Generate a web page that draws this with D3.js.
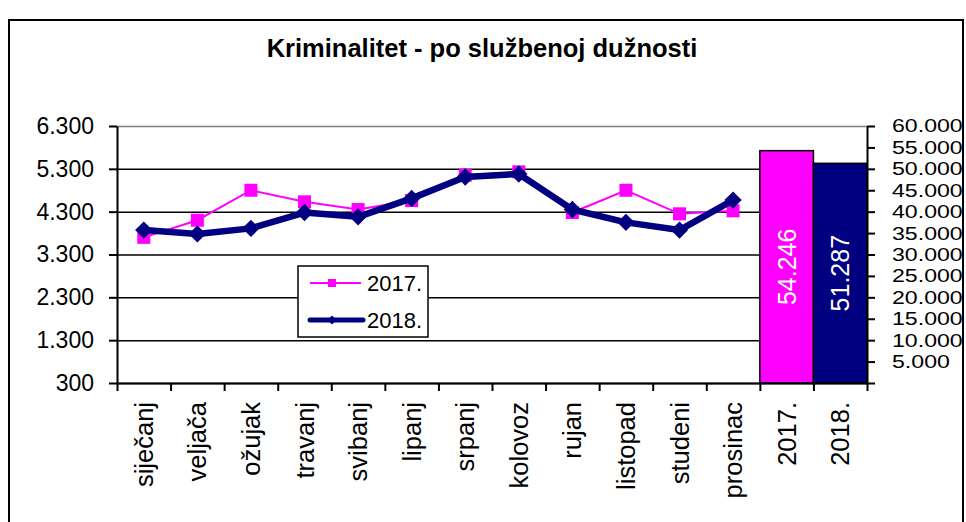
<!DOCTYPE html>
<html>
<head>
<meta charset="utf-8">
<script src="https://cdn.jsdelivr.net/npm/d3@7"></script>
<style>
  html, body { margin: 0; padding: 0; background: #fff; }
  svg { display: block; }
  text { font-family: Arial, "Liberation Sans", sans-serif; fill: #000; }
</style>
</head>
<body>
<svg id="chart" width="966" height="522"></svg>
<script>
const months = ["siječanj","veljača","ožujak","travanj","svibanj","lipanj","srpanj","kolovoz","rujan","listopad","studeni","prosinac"];
const values2017 = [3700, 4100, 4800, 4530, 4350, 4560, 5150, 5230, 4280, 4800, 4250, 4320];
const values2018 = [3870, 3780, 3910, 4280, 4180, 4610, 5110, 5180, 4350, 4050, 3870, 4570];
const totalCategories = ["2017.", "2018."];
const totals = [54246, 51287];
const seriesNames = ["2017.", "2018."];
const leftTicks = [300, 1300, 2300, 3300, 4300, 5300, 6300];
const rightTicks = [5000, 10000, 15000, 20000, 25000, 30000, 35000, 40000, 45000, 50000, 55000, 60000];
const title = "Kriminalitet - po službenoj dužnosti";

const colors = { s2017: "#FF00FF", s2018: "#000080" };

const locale = d3.formatLocale({ decimal: ",", thousands: ".", grouping: [3], currency: ["", ""] });
const fmt = locale.format(",d");

const svg = d3.select("#chart");

// outer frame
svg.append("rect").attr("x", 9).attr("y", 20).attr("width", 954).attr("height", 520)
  .attr("fill", "#fff").attr("stroke", "#000").attr("stroke-width", 2);

svg.append("text").attr("x", 482).attr("y", 57).attr("text-anchor", "middle")
  .attr("font-weight", "bold").attr("font-size", 25.5).text(title);

const L = 117, R = 867, T = 126, B = 383;
const allCats = months.concat(totalCategories);
const x = d3.scaleBand().domain(allCats).range([L, R]).padding(0);
const xEdges = d3.scaleLinear().domain([0, allCats.length]).range([L, R]);
const yL = d3.scaleLinear().domain([300, 6300]).range([B, T]);
const yR = d3.scaleLinear().domain([0, 60000]).range([B, T]);

// gridlines
const grid = svg.append("g").attr("transform", `translate(${L},0)`)
  .call(d3.axisLeft(yL).tickValues(leftTicks).tickSize(-(R - L)).tickFormat(""));
grid.select(".domain").remove();
grid.selectAll(".tick line").attr("stroke", "#000").attr("stroke-width", 1.5)
  .filter(d => d === 6300).attr("stroke", "#808080");

// bars
const bars = svg.append("g");
bars.selectAll("rect").data(totals).join("rect")
  .attr("x", (d, i) => x(totalCategories[i]))
  .attr("width", x.bandwidth())
  .attr("y", d => yR(d))
  .attr("height", d => B - yR(d))
  .attr("fill", (d, i) => i === 0 ? colors.s2017 : colors.s2018)
  .attr("stroke", "#000").attr("stroke-width", 1.5);
bars.selectAll("text").data(totals).join("text")
  .attr("transform", (d, i) => `translate(${x(totalCategories[i]) + x.bandwidth() / 2},${(yR(d) + B) / 2}) rotate(-90)`)
  .attr("text-anchor", "middle").attr("dy", "0.36em")
  .attr("font-size", 25).style("fill", "#fff").text(d => fmt(d));

// axes
const axL = svg.append("g").attr("transform", `translate(${L},0)`)
  .call(d3.axisLeft(yL).tickValues(leftTicks).tickFormat(fmt).tickSize(8).tickPadding(15).tickSizeOuter(0));
axL.selectAll("text").attr("font-size", 23);
axL.selectAll("line, path").attr("stroke", "#000").attr("stroke-width", 2);

const axR = svg.append("g").attr("transform", `translate(${R},0)`)
  .call(d3.axisRight(yR).tickValues([0].concat(rightTicks)).tickFormat("").tickSize(8).tickSizeOuter(0));
axR.selectAll("line, path").attr("stroke", "#000").attr("stroke-width", 2);

// right-axis labels (wide digits, as in the reference)
const rStretch = 1.25;
svg.append("g").selectAll("g").data(rightTicks).join("g")
  .attr("transform", d => `translate(${R + 25},${yR(d)}) scale(${rStretch},1)`)
  .append("text").attr("x", 0).attr("dy", "0.35em").attr("font-size", 18.5)
  .text(d => fmt(d));

const axB = svg.append("g").attr("transform", `translate(0,${B})`)
  .call(d3.axisBottom(xEdges).ticks(allCats.length).tickFormat("").tickSize(8).tickSizeOuter(0));
axB.selectAll("line, path").attr("stroke", "#000").attr("stroke-width", 2);

// category labels
svg.append("g").selectAll("text").data(allCats).join("text")
  .attr("transform", d => `translate(${x(d) + x.bandwidth() / 2 + 9},402) rotate(-90)`)
  .attr("text-anchor", "end").attr("font-size", 25.5).text(d => d);

// lines
const cx = i => x(months[i]) + x.bandwidth() / 2;
const line = d3.line().x((d, i) => cx(i)).y(d => yL(d));

svg.append("path").datum(values2017).attr("d", line)
  .attr("fill", "none").attr("stroke", colors.s2017).attr("stroke-width", 2);
svg.append("g").selectAll("rect").data(values2017).join("rect")
  .attr("x", (d, i) => cx(i) - 6.5).attr("y", d => yL(d) - 6.5)
  .attr("width", 13).attr("height", 13).attr("fill", colors.s2017);

svg.append("path").datum(values2018).attr("d", line)
  .attr("fill", "none").attr("stroke", colors.s2018).attr("stroke-width", 6.5).attr("stroke-linejoin", "round");
const diamond = d3.symbol().type(d3.symbolSquare).size(150);
svg.append("g").selectAll("path").data(values2018).join("path")
  .attr("d", diamond)
  .attr("transform", (d, i) => `translate(${cx(i)},${yL(d)}) rotate(45)`)
  .attr("fill", colors.s2018);

// legend
const lg = svg.append("g").attr("transform", "translate(298,266)");
lg.append("rect").attr("width", 130).attr("height", 71).attr("fill", "#fff").attr("stroke", "#000").attr("stroke-width", 1.5);
lg.append("line").attr("x1", 12).attr("x2", 63).attr("y1", 17).attr("y2", 17).attr("stroke", colors.s2017).attr("stroke-width", 2);
lg.append("rect").attr("x", 30).attr("y", 13).attr("width", 8).attr("height", 8).attr("fill", colors.s2017);
lg.append("line").attr("x1", 12).attr("x2", 65).attr("y1", 54).attr("y2", 54).attr("stroke", colors.s2018).attr("stroke-width", 5).attr("stroke-linecap", "round");
lg.append("path").attr("d", d3.symbol().type(d3.symbolSquare).size(40)).attr("transform", "translate(34,54) rotate(45)").attr("fill", colors.s2018);
lg.selectAll("text.lt").data(seriesNames).join("text").attr("class", "lt")
  .attr("x", 69).attr("y", (d, i) => i === 0 ? 25 : 62).attr("font-size", 22).text(d => d);
</script>
</body>
</html>
